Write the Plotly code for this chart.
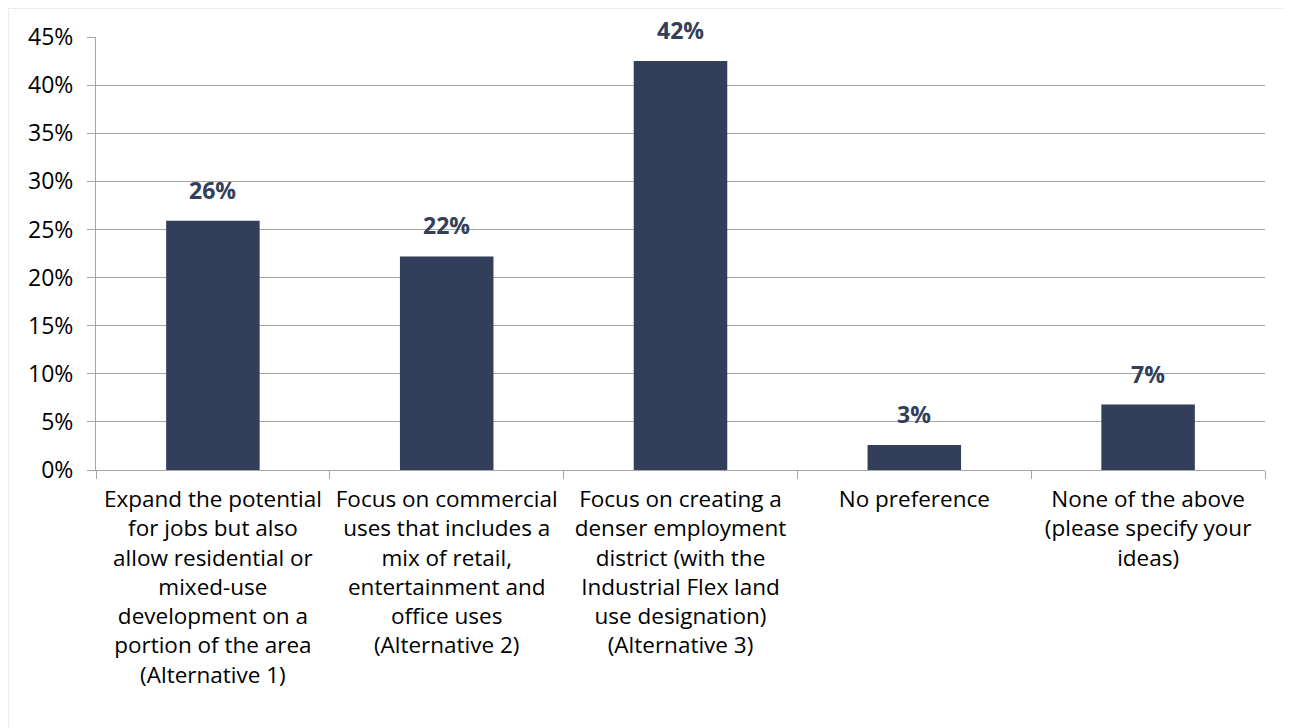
import plotly.graph_objects as go

categories = [
    "Expand the potential<br>for jobs but also<br>allow residential or<br>mixed-use<br>development on a<br>portion of the area<br>(Alternative 1)",
    "Focus on commercial<br>uses that includes a<br>mix of retail,<br>entertainment and<br>office uses<br>(Alternative 2)",
    "Focus on creating a<br>denser employment<br>district (with the<br>Industrial Flex land<br>use designation)<br>(Alternative 3)",
    "No preference",
    "None of the above<br>(please specify your<br>ideas)",
]
values = [0.259, 0.222, 0.425, 0.026, 0.068]
labels = ["26%", "22%", "42%", "3%", "7%"]

bar_color = "#333F5A"
grid_color = "#A6A6A6"
font_family = "'Open Sans', Lato, sans-serif"

fig = go.Figure()

fig.add_trace(go.Bar(
    x=categories,
    y=values,
    marker_color=bar_color,
    marker_line_width=0,
    width=0.4,
    hoverinfo="x+y",
))

# value labels above bars
for cat, val, lab in zip(categories, values, labels):
    fig.add_annotation(
        x=cat, y=val, text=f"<b>{lab}</b>",
        showarrow=False, yanchor="bottom", yshift=13,
        font=dict(size=23, color=bar_color, family=font_family),
    )

fig.update_layout(
    width=1291,
    height=728,
    margin=dict(l=88, r=34, t=29, b=266),
    paper_bgcolor="white",
    plot_bgcolor="white",
    showlegend=False,
    font=dict(family=font_family, size=23, color="black"),
)

fig.update_xaxes(
    showline=True, linecolor=grid_color, linewidth=1,
    ticks="outside", tickson="boundaries", ticklen=8, tickcolor=grid_color,
    tickfont=dict(size=22.5, color="black"),
    tickangle=0, automargin=False,
    ticklabelstandoff=9,
    showgrid=False,
)

fig.update_yaxes(
    range=[0, 0.45],
    dtick=0.05,
    tickformat=".0%",
    showline=True, linecolor=grid_color, linewidth=1,
    ticks="outside", ticklen=8, tickcolor=grid_color,
    ticklabelstandoff=9, automargin=False,
    showgrid=True, gridcolor=grid_color, gridwidth=1,
    zeroline=False,
    tickfont=dict(size=23, color="black"),
)

# faint chart-area border
fig.add_shape(type="line", xref="paper", yref="paper",
              x0=-0.0749, x1=-0.0749, y0=-0.62, y1=1.0658,
              line=dict(color="#EBEBEB", width=1))
fig.add_shape(type="line", xref="paper", yref="paper",
              x0=-0.0749, x1=1.03, y0=1.0658, y1=1.0658,
              line=dict(color="#EBEBEB", width=1))

fig.write_html("out.html")
